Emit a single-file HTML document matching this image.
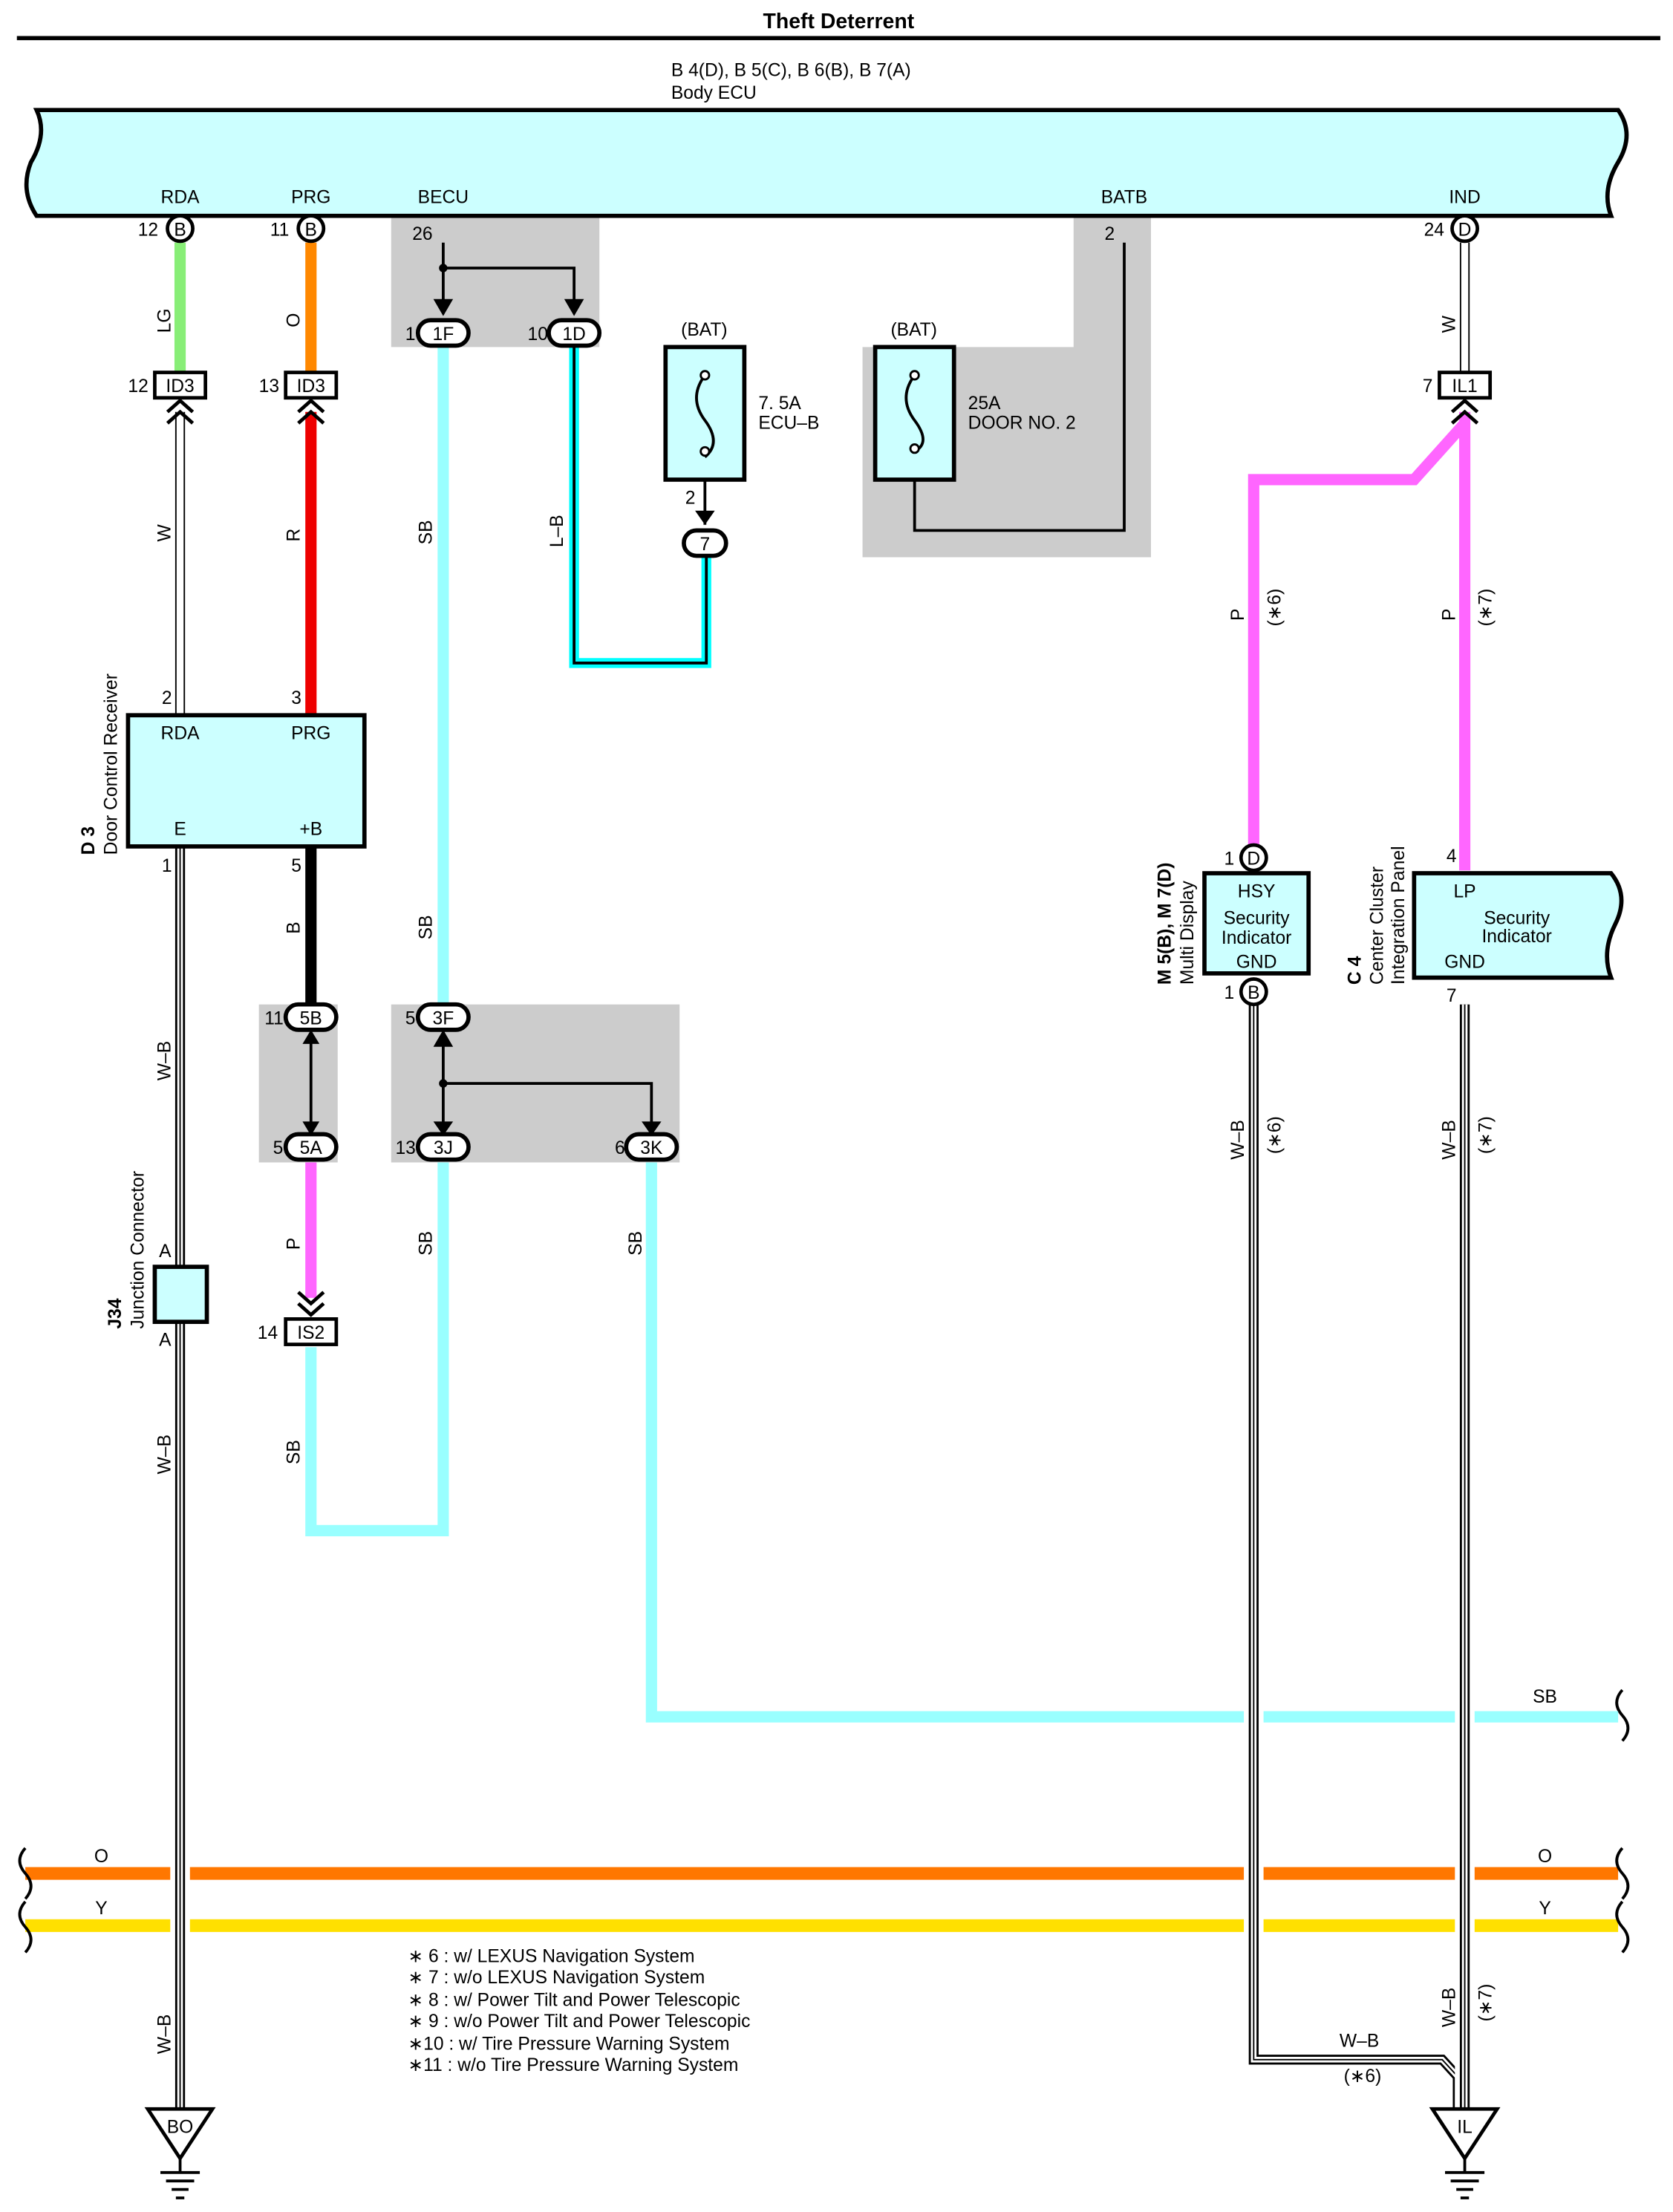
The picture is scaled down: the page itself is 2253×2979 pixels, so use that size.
<!DOCTYPE html>
<html><head><meta charset="utf-8"><style>
html,body{margin:0;padding:0;background:#fff}
svg{display:block}
text{font-family:"Liberation Sans",sans-serif;font-size:13px;fill:#000}
</style></head><body>
<svg width="2253" height="2979" viewBox="0 0 1189 1568" preserveAspectRatio="none" xmlns="http://www.w3.org/2000/svg">
<rect width="1189" height="1568" fill="#fff"/>
<text x="596" y="20" text-anchor="middle" font-weight="bold" style="font-size:15px">Theft Deterrent</text>
<line x1="12" y1="27" x2="1180" y2="27" stroke="#000" stroke-width="3"/>
<text x="477" y="54">B 4(D), B 5(C), B 6(B), B 7(A)</text>
<text x="477" y="70">Body ECU</text>

<rect x="278" y="153" width="148" height="93" fill="#ccc"/>
<rect x="763" y="153" width="55" height="100" fill="#ccc"/>
<rect x="613" y="246" width="205" height="149" fill="#ccc"/>
<rect x="184" y="712" width="56" height="112" fill="#ccc"/>
<rect x="278" y="712" width="205" height="112" fill="#ccc"/>

<path d="M26,78 L1150,78 Q1162,95 1150,115 Q1138,135 1145,153 L26,153 Q14,135 22,115 Q34,95 26,78 Z" fill="#ccffff" stroke="#000" stroke-width="3"/>
<g text-anchor="middle"><text x="128" y="144">RDA</text><text x="221" y="144">PRG</text><text x="315" y="144">BECU</text><text x="799" y="144">BATB</text><text x="1041" y="144">IND</text></g>

<line x1="18" y1="1328" x2="1150" y2="1328" stroke="#ff7700" stroke-width="9"/>
<line x1="18" y1="1365" x2="1150" y2="1365" stroke="#ffe000" stroke-width="9"/>
<path d="M18,1310 q-8,9 0,18 q8,9 0,18 M18,1348 q-8,9 0,18 q8,9 0,18 M1153,1310 q-8,9 0,18 q8,9 0,18 M1153,1348 q-8,9 0,18 q8,9 0,18 M1153,1198 q-8,9 0,18 q8,9 0,18" fill="none" stroke="#000" stroke-width="2"/>
<text x="72" y="1320" text-anchor="middle">O</text><text x="72" y="1357" text-anchor="middle">Y</text>
<text x="1098" y="1320" text-anchor="middle">O</text><text x="1098" y="1357" text-anchor="middle">Y</text>

<g fill="none" stroke="#99ffff" stroke-width="8">
<path d="M315,246 V712"/>
<path d="M315,824 V1085 H221 V955"/>
<path d="M463,824 V1217 H1150"/>
</g>
<text x="1098" y="1207" text-anchor="middle">SB</text>

<line x1="128" y1="172" x2="128" y2="265" stroke="#88ee77" stroke-width="8"/>
<line x1="221" y1="172" x2="221" y2="265" stroke="#ff8800" stroke-width="8"/>
<line x1="221" y1="292" x2="221" y2="507" stroke="#ee0000" stroke-width="8"/>
<line x1="221" y1="600" x2="221" y2="712" stroke="#000" stroke-width="8"/>
<line x1="221" y1="824" x2="221" y2="920" stroke="#ff66ff" stroke-width="8"/>
<g fill="none" stroke="#ff66ff" stroke-width="8">
<path d="M1041,292 V617"/>
<path d="M1041,300 L1005,340 H891 V600"/>
</g>
<path d="M408,246 V470 H502 V395" fill="none" stroke="#00ffff" stroke-width="7"/>
<path d="M408,246 V470 H502 V395" fill="none" stroke="#000" stroke-width="2"/>

<g fill="none">
<path d="M128,292 V507" stroke="#000" stroke-width="7"/><path d="M128,292 V507" stroke="#fff" stroke-width="5"/>
<path d="M1041,172 V265" stroke="#000" stroke-width="7"/><path d="M1041,172 V265" stroke="#fff" stroke-width="5"/>
<path d="M128,600 V898 M128,937 V1495" stroke="#fff" stroke-width="14"/>
<path d="M128,600 V898 M128,937 V1495" stroke="#000" stroke-width="7"/><path d="M128,600 V898 M128,937 V1495" stroke="#fff" stroke-width="4"/><path d="M128,600 V898 M128,937 V1495" stroke="#000" stroke-width="1"/>
<path d="M891,712 V1460 H1025 L1036,1472 V1495" stroke="#fff" stroke-width="14"/>
<path d="M891,712 V1460 H1025 L1036,1472 V1495" stroke="#000" stroke-width="7"/><path d="M891,712 V1460 H1025 L1036,1472 V1495" stroke="#fff" stroke-width="4"/><path d="M891,712 V1460 H1025 L1036,1472 V1495" stroke="#000" stroke-width="1"/>
<path d="M1041,712 V1495" stroke="#fff" stroke-width="14"/>
<path d="M1041,712 V1495" stroke="#000" stroke-width="7"/><path d="M1041,712 V1495" stroke="#fff" stroke-width="4"/><path d="M1041,712 V1495" stroke="#000" stroke-width="1"/>
</g>

<path d="M650,320 V376 H799 V172" fill="none" stroke="#000" stroke-width="2"/>
<rect x="473" y="246" width="56" height="94" fill="#ccffff" stroke="#000" stroke-width="3"/>
<rect x="622" y="246" width="56" height="94" fill="#ccffff" stroke="#000" stroke-width="3"/>
<path d="M501,266 q-12,16 0,32 q12,16 0,26" fill="none" stroke="#000" stroke-width="2"/>
<path d="M650,266 q-12,16 0,32 q12,16 0,22" fill="none" stroke="#000" stroke-width="2"/>
<circle cx="501" cy="266" r="3" fill="#fff" stroke="#000" stroke-width="1.5"/><circle cx="501" cy="320" r="3" fill="#fff" stroke="#000" stroke-width="1.5"/>
<circle cx="650" cy="266" r="3" fill="#fff" stroke="#000" stroke-width="1.5"/><circle cx="650" cy="318" r="3" fill="#fff" stroke="#000" stroke-width="1.5"/>
<line x1="501" y1="340" x2="501" y2="372" stroke="#000" stroke-width="2"/>
<polygon points="494,362 508,362 501,372" fill="#000"/>
<text x="484" y="238">(BAT)</text><text x="633" y="238">(BAT)</text>
<text x="539" y="290">7. 5A</text><text x="539" y="304">ECU–B</text>
<text x="688" y="290">25A</text><text x="688" y="304">DOOR NO. 2</text>
<text x="487" y="357">2</text><text x="785" y="170">2</text>

<path d="M315,172 V220 M315,190 H408 V220" fill="none" stroke="#000" stroke-width="2"/>
<circle cx="315" cy="190" r="3" fill="#000"/>
<polygon points="308,212 322,212 315,224" fill="#000"/><polygon points="401,212 415,212 408,224" fill="#000"/>
<text x="293" y="170">26</text>

<path d="M221,730 V805" stroke="#000" stroke-width="2"/>
<polygon points="215,740 227,740 221,730" fill="#000"/><polygon points="215,795 227,795 221,805" fill="#000"/>
<path d="M315,730 V805 M315,768 H463 V805" fill="none" stroke="#000" stroke-width="2"/>
<circle cx="315" cy="768" r="3" fill="#000"/>
<polygon points="308,742 322,742 315,730" fill="#000"/><polygon points="308,795 322,795 315,805" fill="#000"/><polygon points="456,795 470,795 463,805" fill="#000"/>
<g fill="none" stroke="#000" stroke-width="2.5">
<path d="M119,292 l9,-8 l9,8 M119,300 l9,-8 l9,8"/>
<path d="M212,292 l9,-8 l9,8 M212,300 l9,-8 l9,8"/>
<path d="M1032,292 l9,-8 l9,8 M1032,300 l9,-8 l9,8"/>
<path d="M212,916 l9,8 l9,-8 M212,924 l9,8 l9,-8"/>
</g>

<g stroke="#000" stroke-width="2.5" fill="#fff">
<circle cx="128" cy="162" r="9"/><circle cx="221" cy="162" r="9"/><circle cx="1041" cy="162" r="9"/>
<circle cx="891" cy="608" r="9"/><circle cx="891" cy="703" r="9"/>
</g>
<g text-anchor="middle" style="font-size:12px"><text x="128" y="167">B</text><text x="221" y="167">B</text><text x="1041" y="167">D</text><text x="891" y="613">D</text><text x="891" y="708">B</text></g>
<text x="98" y="167">12</text><text x="192" y="167">11</text><text x="1012" y="167">24</text>
<text x="870" y="613">1</text><text x="870" y="708">1</text>

<g stroke="#000" stroke-width="3" fill="#fff">
<rect x="297" y="227" width="36" height="18" rx="9"/><rect x="390" y="227" width="36" height="18" rx="9"/>
<rect x="486" y="376" width="30" height="18" rx="9"/>
<rect x="203" y="712" width="36" height="18" rx="9"/><rect x="203" y="804" width="36" height="18" rx="9"/>
<rect x="297" y="712" width="36" height="18" rx="9"/><rect x="297" y="804" width="36" height="18" rx="9"/><rect x="445" y="804" width="36" height="18" rx="9"/>
</g>
<g text-anchor="middle" style="font-size:12px">
<text x="315" y="241">1F</text><text x="408" y="241">1D</text><text x="501" y="390">7</text>
<text x="221" y="726">5B</text><text x="221" y="818">5A</text>
<text x="315" y="726">3F</text><text x="315" y="818">3J</text><text x="463" y="818">3K</text>
</g>
<text x="288" y="241">1</text><text x="375" y="241">10</text>
<text x="188" y="726">11</text><text x="194" y="818">5</text>
<text x="288" y="726">5</text><text x="281" y="818">13</text><text x="437" y="818">6</text>

<g stroke="#000" stroke-width="2.5" fill="#fff">
<rect x="110" y="264" width="36" height="18"/><rect x="203" y="264" width="36" height="18"/>
<rect x="1023" y="264" width="36" height="18"/><rect x="203" y="935" width="36" height="18"/>
</g>
<g text-anchor="middle" style="font-size:12px"><text x="128" y="278">ID3</text><text x="221" y="278">ID3</text><text x="1041" y="278">IL1</text><text x="221" y="949">IS2</text></g>
<text x="91" y="278">12</text><text x="184" y="278">13</text><text x="1011" y="278">7</text><text x="183" y="949">14</text>

<rect x="91" y="507" width="168" height="93" fill="#ccffff" stroke="#000" stroke-width="3"/>
<text x="128" y="524" text-anchor="middle">RDA</text><text x="221" y="524" text-anchor="middle">PRG</text>
<text x="128" y="592" text-anchor="middle">E</text><text x="221" y="592" text-anchor="middle">+B</text>
<text x="115" y="499">2</text><text x="207" y="499">3</text><text x="115" y="618">1</text><text x="207" y="618">5</text>
<text transform="translate(67,606) rotate(-90)" font-weight="bold">D 3</text>
<text transform="translate(83,606) rotate(-90)">Door Control Receiver</text>

<rect x="110" y="898" width="37" height="39" fill="#ccffff" stroke="#000" stroke-width="3"/>
<text x="113" y="891">A</text><text x="113" y="954">A</text>
<text transform="translate(86,942) rotate(-90)" font-weight="bold">J34</text>
<text transform="translate(102,942) rotate(-90)">Junction Connector</text>

<rect x="856" y="619" width="74" height="71" fill="#ccffff" stroke="#000" stroke-width="3"/>
<g text-anchor="middle"><text x="893" y="636">HSY</text><text x="893" y="655">Security</text><text x="893" y="669">Indicator</text><text x="893" y="686">GND</text></g>
<text transform="translate(832,698) rotate(-90)" font-weight="bold">M 5(B), M 7(D)</text>
<text transform="translate(848,698) rotate(-90)">Multi Display</text>

<path d="M1005,619 H1145 Q1158,635 1148,655 Q1138,675 1145,693 H1005 Z" fill="#ccffff" stroke="#000" stroke-width="3"/>
<text x="1041" y="636" text-anchor="middle">LP</text>
<text x="1078" y="655" text-anchor="middle">Security</text><text x="1078" y="668" text-anchor="middle">Indicator</text>
<text x="1041" y="686" text-anchor="middle">GND</text>
<text x="1028" y="611">4</text><text x="1028" y="710">7</text>
<text transform="translate(967,698) rotate(-90)" font-weight="bold">C 4</text>
<text transform="translate(983,698) rotate(-90)">Center Cluster</text>
<text transform="translate(998,698) rotate(-90)">Integration Panel</text>

<g>
<text transform="translate(121,236) rotate(-90)">LG</text>
<text transform="translate(213,232) rotate(-90)">O</text>
<text transform="translate(121,384) rotate(-90)">W</text>
<text transform="translate(213,384) rotate(-90)">R</text>
<text transform="translate(307,386) rotate(-90)">SB</text>
<text transform="translate(400,388) rotate(-90)">L–B</text>
<text transform="translate(1034,236) rotate(-90)">W</text>
<text transform="translate(884,440) rotate(-90)">P</text><text transform="translate(910,444) rotate(-90)">(∗6)</text>
<text transform="translate(1034,440) rotate(-90)">P</text><text transform="translate(1060,444) rotate(-90)">(∗7)</text>
<text transform="translate(121,766) rotate(-90)">W–B</text>
<text transform="translate(213,662) rotate(-90)">B</text>
<text transform="translate(307,666) rotate(-90)">SB</text>
<text transform="translate(213,886) rotate(-90)">P</text>
<text transform="translate(307,890) rotate(-90)">SB</text>
<text transform="translate(456,890) rotate(-90)">SB</text>
<text transform="translate(213,1038) rotate(-90)">SB</text>
<text transform="translate(121,1045) rotate(-90)">W–B</text>
<text transform="translate(884,822) rotate(-90)">W–B</text><text transform="translate(910,818) rotate(-90)">(∗6)</text>
<text transform="translate(1034,822) rotate(-90)">W–B</text><text transform="translate(1060,818) rotate(-90)">(∗7)</text>
<text transform="translate(121,1456) rotate(-90)">W–B</text>
<text transform="translate(1034,1437) rotate(-90)">W–B</text><text transform="translate(1060,1433) rotate(-90)">(∗7)</text>
</g>
<text x="952" y="1451">W–B</text><text x="955" y="1476">(∗6)</text>

<g style="font-size:13px">
<text x="290" y="1391">∗ 6 : w/ LEXUS Navigation System</text>
<text x="290" y="1406">∗ 7 : w/o LEXUS Navigation System</text>
<text x="290" y="1422">∗ 8 : w/ Power Tilt and Power Telescopic</text>
<text x="290" y="1437">∗ 9 : w/o Power Tilt and Power Telescopic</text>
<text x="290" y="1453">∗10 : w/ Tire Pressure Warning System</text>
<text x="290" y="1468">∗11 : w/o Tire Pressure Warning System</text>
</g>

<g fill="#fff" stroke="#000" stroke-width="2.5">
<polygon points="105,1495 151,1495 128,1530"/>
<polygon points="1018,1495 1064,1495 1041,1530"/>
</g>
<g stroke="#000" stroke-width="2">
<path d="M128,1530 V1540 M114,1540 H142 M118,1546 H138 M122,1552 H134 M125,1558 H131"/>
<path d="M1041,1530 V1540 M1027,1540 H1055 M1031,1546 H1051 M1035,1552 H1047 M1038,1558 H1044"/>
</g>
<text x="128" y="1512" text-anchor="middle">BO</text><text x="1041" y="1512" text-anchor="middle">IL</text>
</svg>
</body></html>
